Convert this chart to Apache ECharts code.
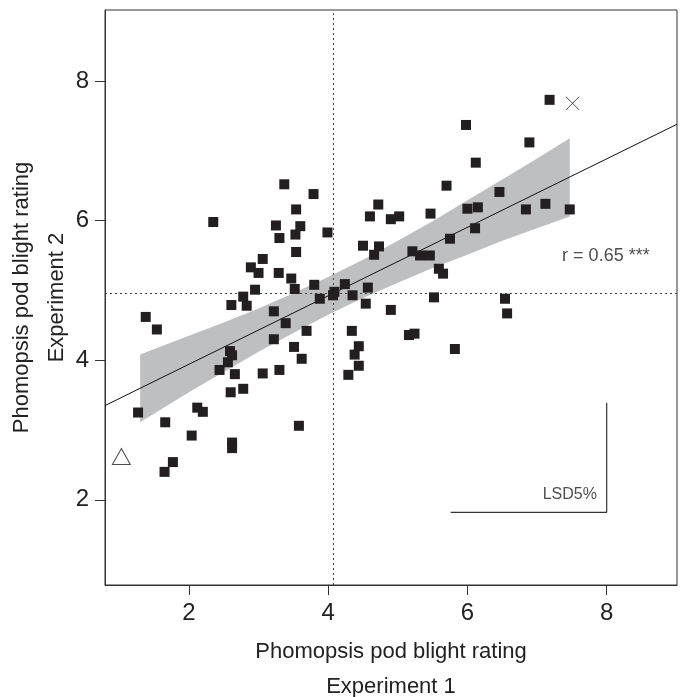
<!DOCTYPE html>
<html><head><meta charset="utf-8">
<script src="https://cdn.jsdelivr.net/npm/echarts@6/dist/echarts.min.js"></script>
<style>html,body{margin:0;padding:0;background:#fff}#c{width:689px;height:697px}</style>
</head><body><div id="c"></div>
<script>
// Experiment 1 (x) and Experiment 2 (y) ratings of each line
const exp1 = [3.37,3.79,3.54,2.35,3.25,3.60,3.53,3.30,3.99,3.54,3.06,2.89,3.00,3.29,3.47,3.80,3.52,2.95,2.78,2.61,2.83,3.88,1.38,1.54,3.22,3.39,3.69,3.22,3.51,3.62,2.59,2.62,2.56,2.44,2.66,3.06,3.30,2.60,2.78,2.12,2.20,1.27,1.66,3.58,2.04,2.62,2.62,1.77,1.65,
              5.70,6.46,4.72,6.00,6.15,6.84,7.12,4.60,4.90,5.02,5.47,6.11,5.75,4.50,4.73,4.66,5.21,5.32,5.46,5.59,5.65,4.24,4.09,4.07,4.35,4.57,4.54,4.90,5.52,6.54,6.57,4.34,5.16,5.24,4.44,4.38,5.82,4.44,4.29,7.18,5.98,6.89,6.12,7.47];
const exp2 = [6.52,6.38,6.16,5.98,5.93,5.92,5.80,5.75,5.83,5.55,5.45,5.33,5.25,5.25,5.17,5.08,5.02,5.01,4.91,4.79,4.78,4.88,4.62,4.44,4.70,4.53,4.42,4.30,4.19,4.02,4.13,4.07,3.97,3.86,3.80,3.81,3.86,3.54,3.59,3.32,3.26,3.25,3.11,3.06,2.92,2.82,2.74,2.54,2.40,
              6.50,6.41,6.23,6.17,6.19,6.16,6.24,6.06,6.02,6.06,6.10,5.89,5.74,5.64,5.63,5.51,5.56,5.50,5.50,5.31,5.24,5.09,4.98,4.93,4.93,5.04,4.81,4.72,4.90,4.88,4.67,4.42,4.36,4.38,4.20,4.08,4.16,3.92,3.79,7.73,7.37,7.12,6.83,6.16];
const tickValues = [2, 4, 6, 8];
const meanExp1 = 4.08;
const meanExp2 = 4.96;
// regression line end points (read at the plot edges)
const fitX = [0.795, 9.01];
const fitY = [3.35, 7.38];
// confidence band
const bandX    = [1.30, 2.00, 2.50, 3.00, 3.50, 4.00, 4.50, 5.00, 5.50, 6.00, 6.50, 7.00, 7.47];
const bandLow  = [3.11, 3.54, 3.83, 4.12, 4.39, 4.65, 4.89, 5.11, 5.32, 5.51, 5.71, 5.89, 6.06];
const bandHigh = [4.08, 4.35, 4.54, 4.74, 4.96, 5.19, 5.44, 5.71, 5.99, 6.29, 6.59, 6.89, 7.18];
// special (parent) points
const triangleX = [1.03], triangleY = [2.62];
const crossX = [7.51], crossY = [7.68];
// LSD bars
const lsdX = [5.76, 8.0, 8.0];
const lsdY = [1.82, 1.82, 3.39];
const rText = 'r = 0.65 ***';
const rTextPos = [7.36, 5.49];
const lsdText = 'LSD5%';
const lsdTextPos = [7.86, 2.08];

const FONT = "'Liberation Sans', Arial, Helvetica, sans-serif";
const chart = echarts.init(document.getElementById('c'));
const zip = (a, b) => a.map((v, i) => [v, b[i]]);

chart.setOption({
  animation: false,
  backgroundColor: '#fff',
  textStyle: { fontFamily: FONT },
  grid: { left: 105, top: 10, right: 12, bottom: 112, show: true, borderColor: '#333', borderWidth: 1, containLabel: false, outerBoundsMode: 'none' },
  xAxis: {
    type: 'value', min: 0.795, max: 9.01,
    splitLine: { show: false },
    axisLine: { show: true, onZero: false, lineStyle: { color: '#333', width: 1 } },
    axisTick: { show: true, length: 10, customValues: tickValues, lineStyle: { color: '#333' } },
    axisLabel: { customValues: tickValues, fontSize: 24, color: '#222', margin: 16, fontFamily: FONT },
    name: 'Phomopsis pod blight rating\nExperiment 1',
    nameLocation: 'middle', nameGap: 49, nameMoveOverlap: false,
    nameTextStyle: { fontSize: 22, lineHeight: 35, color: '#222', fontFamily: FONT }
  },
  yAxis: {
    type: 'value', min: 0.779, max: 9.017,
    splitLine: { show: false },
    axisLine: { show: true, onZero: false, lineStyle: { color: '#333', width: 1 } },
    axisTick: { show: true, length: 10, customValues: tickValues, lineStyle: { color: '#333' } },
    axisLabel: { customValues: tickValues, fontSize: 24, color: '#222', margin: 16, fontFamily: FONT },
    name: 'Phomopsis pod blight rating\nExperiment 2',
    nameLocation: 'middle', nameGap: 31, nameMoveOverlap: false,
    nameTextStyle: { fontSize: 22, lineHeight: 35, color: '#222', fontFamily: FONT }
  },
  series: [
    {
      type: 'custom', coordinateSystem: 'cartesian2d', silent: true, z: 1,
      data: [[bandX[0], bandLow[0]]],
      renderItem: function (params, api) {
        const pts = [];
        for (let i = 0; i < bandX.length; i++) pts.push(api.coord([bandX[i], bandHigh[i]]));
        for (let i = bandX.length - 1; i >= 0; i--) pts.push(api.coord([bandX[i], bandLow[i]]));
        return { type: 'polygon', shape: { points: pts }, style: { fill: '#bebfc1' } };
      }
    },
    {
      type: 'line', z: 2, symbol: 'none', silent: true,
      data: zip(fitX, fitY),
      lineStyle: { color: '#111', width: 1 },
      markLine: {
        silent: true, symbol: 'none', label: { show: false },
        lineStyle: { color: '#444', width: 1, type: [2, 3] },
        data: [{ xAxis: meanExp1 }, { yAxis: meanExp2 }]
      }
    },
    {
      type: 'line', z: 2, symbol: 'none', silent: true,
      data: zip(lsdX, lsdY),
      lineStyle: { color: '#333', width: 1.2 }
    },
    {
      type: 'scatter', z: 5, symbol: 'rect', symbolSize: 10,
      data: zip(exp1, exp2),
      itemStyle: { color: '#231f20', opacity: 1 }
    },
    {
      type: 'scatter', z: 5, symbol: 'triangle', symbolSize: [18, 16],
      data: zip(triangleX, triangleY),
      itemStyle: { color: 'rgba(255,255,255,0)', borderColor: '#222', borderWidth: 1 }
    },
    {
      type: 'scatter', z: 5, symbol: 'path://M0,0L10,10M10,0L0,10', symbolSize: 13,
      data: zip(crossX, crossY),
      itemStyle: { color: 'none', borderColor: '#222', borderWidth: 1 }
    },
    {
      type: 'scatter', z: 6, symbolSize: 0, silent: true,
      data: [rTextPos],
      label: { show: true, position: 'right', distance: 0, formatter: rText, fontSize: 18, color: '#222', fontFamily: FONT }
    },
    {
      type: 'scatter', z: 6, symbolSize: 0, silent: true,
      data: [lsdTextPos],
      label: { show: true, position: 'left', distance: 0, formatter: lsdText, fontSize: 16, color: '#222', fontFamily: FONT }
    }
  ]
});
</script>
</body></html>
